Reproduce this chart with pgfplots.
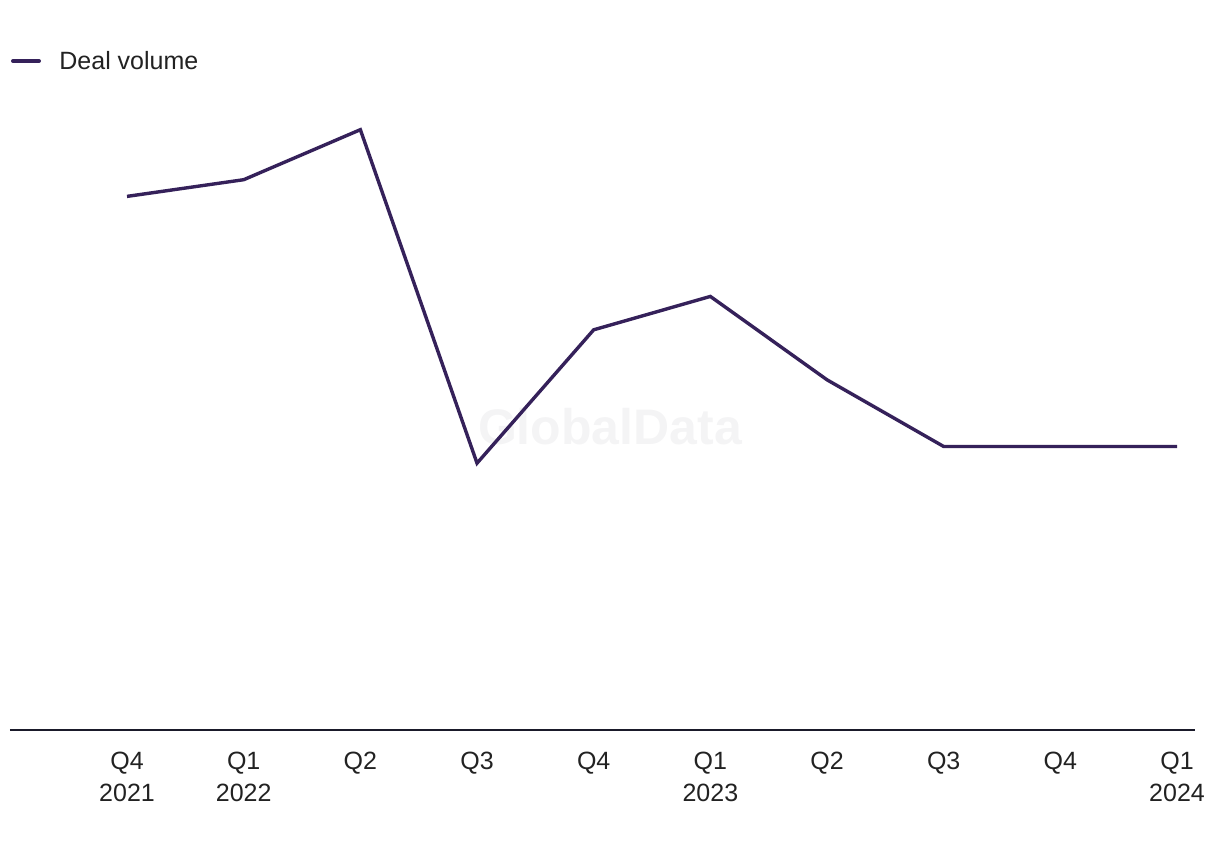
\documentclass[border=0pt]{standalone}
\usepackage{pgfplots}
\pgfplotsset{compat=1.18}
\usepackage{fontspec}
\setmainfont{Liberation Sans}
\definecolor{lineC}{HTML}{35215A}
\definecolor{axisC}{HTML}{1A1A2A}
\definecolor{textC}{HTML}{222222}
\definecolor{wmC}{HTML}{F4F4F5}
\begin{document}
\begin{tikzpicture}[x=1pt,y=1pt]
\useasboundingbox (0,0) rectangle (610,425);
\node[font=\fontsize{25}{30}\selectfont\bfseries, text=wmC] at (305,211.5) {GlobalData};
\begin{axis}[
  at={(5pt,60pt)}, anchor=south west,
  scale only axis, width=592.5pt, height=333.5pt,
  xmin=-1.003, xmax=9.154, ymin=0, ymax=20,
  axis x line=bottom, axis y line=none,
  x axis line style={-, axisC, line width=1pt},
  xtick={0,...,9}, major tick length=0pt,
  xticklabels={{Q4\\2021},{Q1\\2022},{Q2},{Q3},{Q4},{Q1\\2023},{Q2},{Q3},{Q4},{Q1\\2024}},
  xticklabel style={align=center, anchor=north, yshift=-7.5pt, text=textC,
    font=\fontsize{12.5}{15.8}\selectfont},
  clip=false,
]
\addplot[lineC, line width=1.7pt, line join=miter] coordinates {
  (0,16) (1,16.5) (2,18) (3,8) (4,12) (5,13) (6,10.5) (7,8.5) (8,8.5) (9,8.5)
};
\end{axis}
\draw[lineC, line width=2pt, line cap=round] (6.5,394.5) -- (19.5,394.5);
\node[anchor=west, inner sep=0pt, text=textC, font=\fontsize{12.5}{15}\selectfont] at (29.5,394.5) {Deal volume};
\end{tikzpicture}
\end{document}
